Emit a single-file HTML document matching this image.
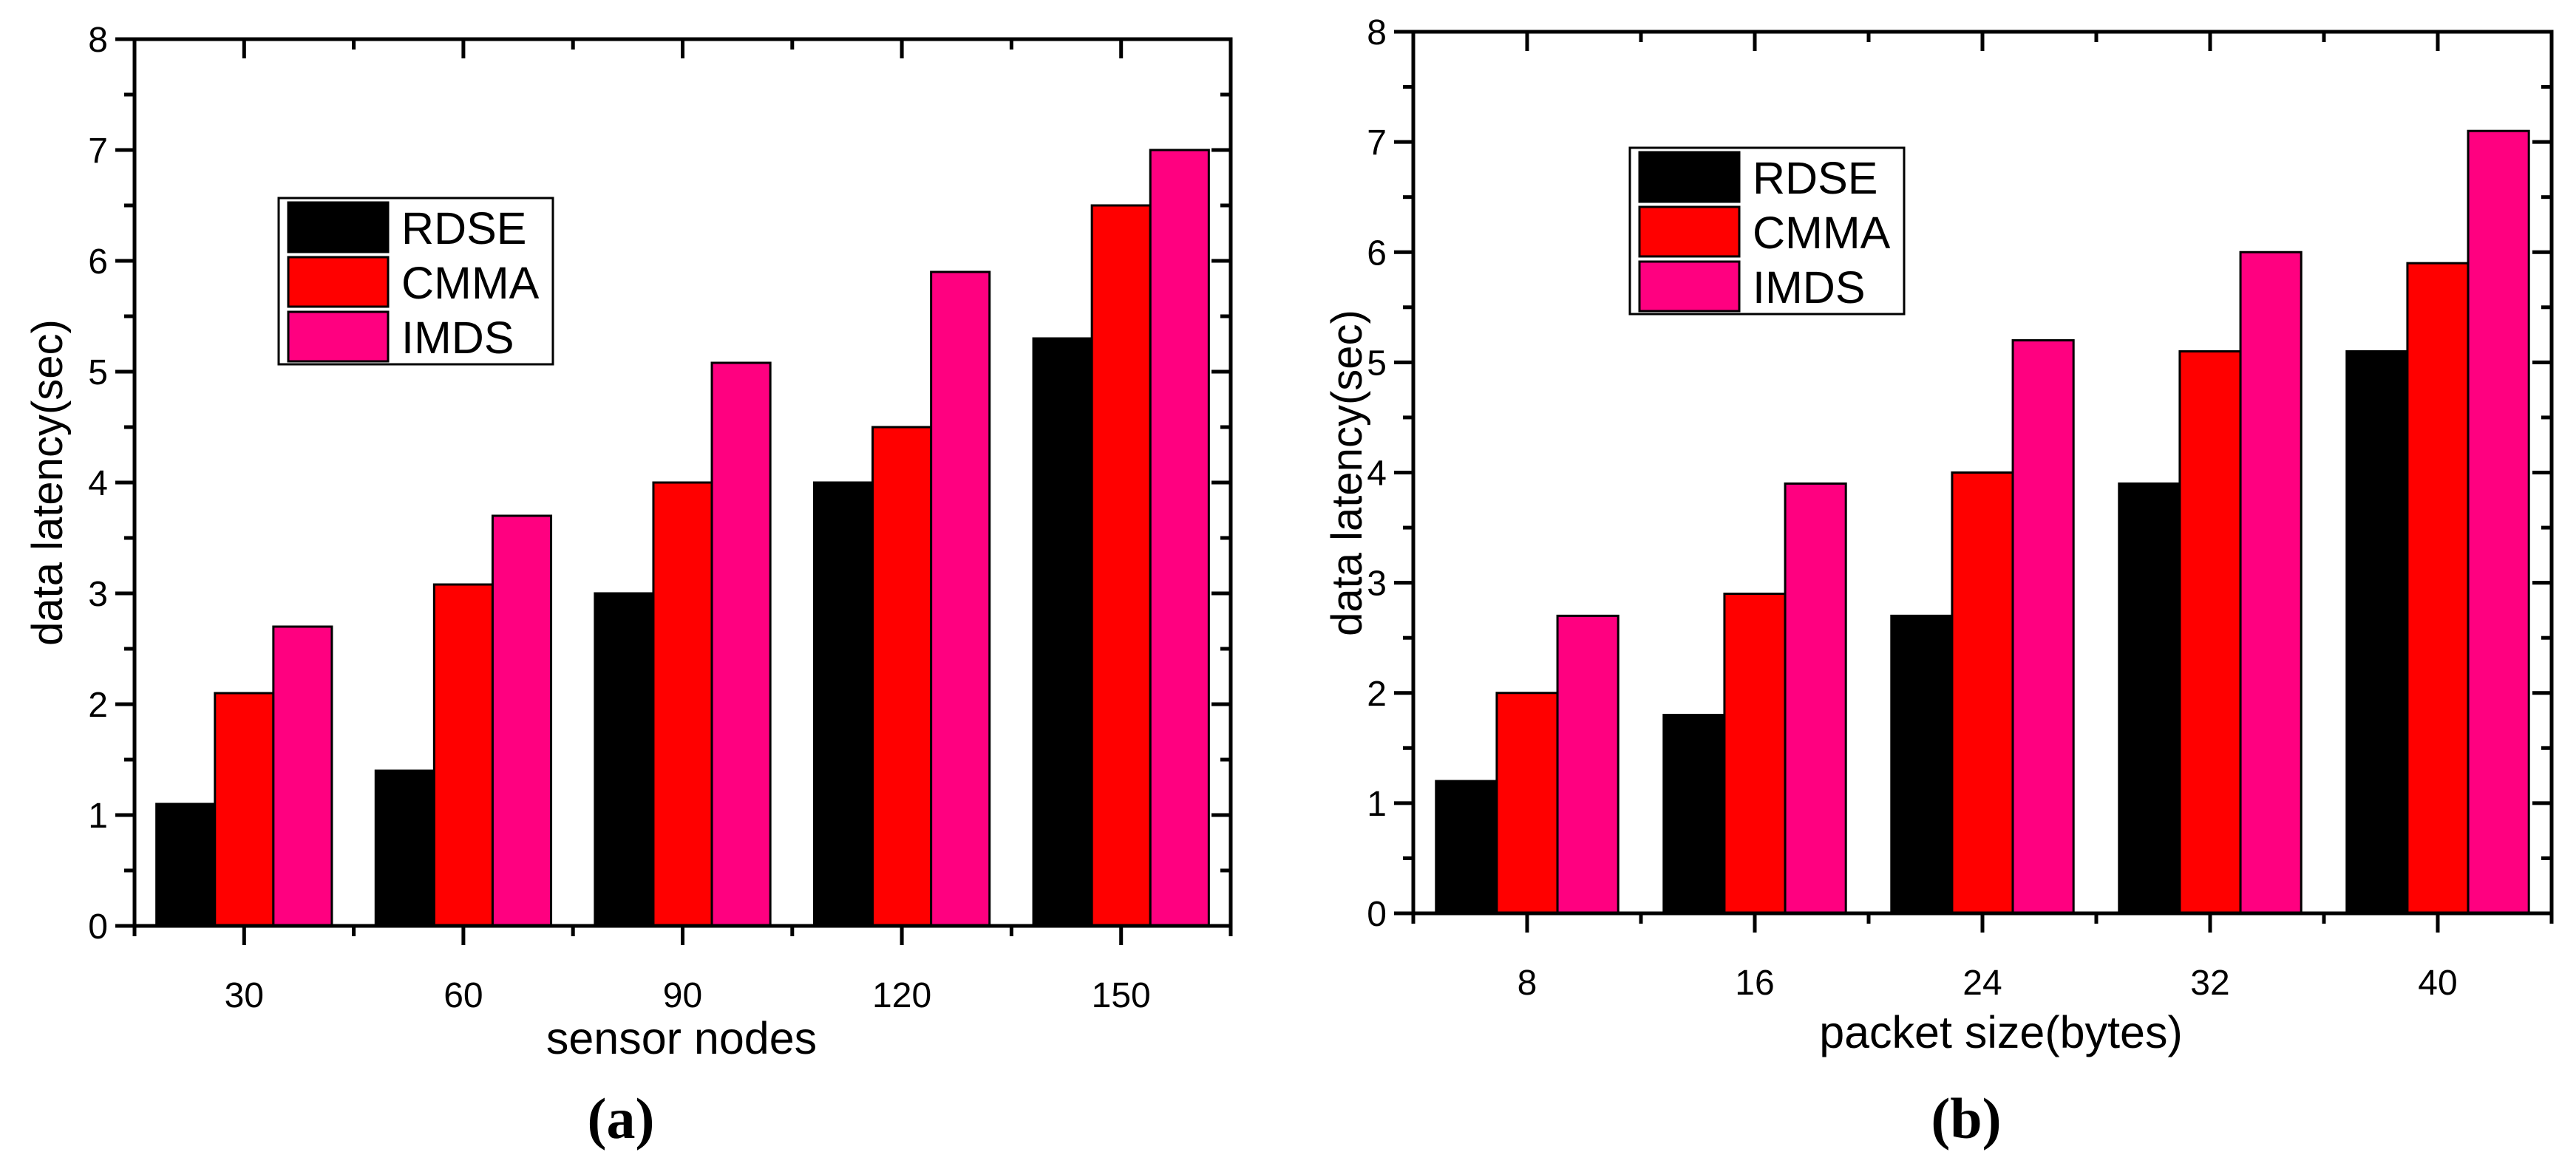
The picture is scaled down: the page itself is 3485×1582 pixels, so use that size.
<!DOCTYPE html>
<html><head><meta charset="utf-8"><style>
html,body{margin:0;padding:0;background:#fff;}
svg{display:block;}
text{font-family:"Liberation Sans",sans-serif;fill:#000;}
</style></head><body>
<svg id="fig" width="3485" height="1582" viewBox="0 0 3485 1582" xmlns="http://www.w3.org/2000/svg"></svg>
<script>
const seriesNames = ["RDSE","CMMA","IMDS"];
const seriesColors = ["#000000","#ff0000","#ff0080"];
const catsA = ["30","60","90","120","150"];
const rdseA = [1.1,1.4,3.0,4.0,5.3];
const cmmaA = [2.1,3.08,4.0,4.5,6.5];
const imdsA = [2.7,3.7,5.08,5.9,7.0];
const catsB = ["8","16","24","32","40"];
const rdseB = [1.2,1.8,2.7,3.9,5.1];
const cmmaB = [2.0,2.9,4.0,5.1,5.9];
const imdsB = [2.7,3.9,5.2,6.0,7.1];
const yTicks = [0,1,2,3,4,5,6,7,8];

const NS="http://www.w3.org/2000/svg";
const svg=document.getElementById('fig');
function mk(tag,attrs,parent){const e=document.createElementNS(NS,tag);for(const k in attrs)e.setAttribute(k,attrs[k]);(parent||svg).appendChild(e);return e;}

function chart(cfg,cats,series){
  const g=mk('g',{});
  
  
  const L=cfg.L,R=cfg.R,T=cfg.T,B=cfg.B;
  const y=v=>B-(v/8)*(B-T);
  const step=(R-L)/cats.length;
  const cx=i=>L+step*(i+0.5);
  const bw=step*0.8/3;
  series.forEach((vals,s)=>{
    vals.forEach((v,i)=>{
      const x=cx(i)-1.5*bw+s*bw;
      const r=mk('rect',{x:x,y:y(v),width:bw,height:B-y(v),fill:seriesColors[s],stroke:'#000','stroke-width':3},g);
      
      
    });
  });
  const f=mk('rect',{x:L,y:T,width:R-L,height:B-T,fill:'none',stroke:'#000','stroke-width':5},g);
  
  
  for(let k=0;k<=16;k++){
    const v=k/2, yy=y(v), major=k%2===0, len=major?26:14;
    mk('line',{x1:L-len,y1:yy,x2:L,y2:yy,stroke:'#000','stroke-width':5},g);
    mk('line',{x1:R,y1:yy,x2:R-len,y2:yy,stroke:'#000','stroke-width':5},g);
  }
  yTicks.forEach(v=>{
    const t=mk('text',{x:L-36,y:y(v)+17,'font-size':48,'text-anchor':'end'},g);
    t.textContent=v;
    
    
  });
  for(let i=0;i<=cats.length;i++){
    const xb=L+step*i;
    mk('line',{x1:xb,y1:B,x2:xb,y2:B+14,stroke:'#000','stroke-width':5},g);
    mk('line',{x1:xb,y1:T,x2:xb,y2:T+14,stroke:'#000','stroke-width':5},g);
  }
  cats.forEach((c,i)=>{
    mk('line',{x1:cx(i),y1:B,x2:cx(i),y2:B+26,stroke:'#000','stroke-width':5},g);
    mk('line',{x1:cx(i),y1:T,x2:cx(i),y2:T+26,stroke:'#000','stroke-width':5},g);
    const t=mk('text',{x:cx(i),y:B+110,'font-size':48,'text-anchor':'middle'},g);
    t.textContent=c;
    
    
  });
  const yt=mk('text',{x:0,y:0,'font-size':58,'text-anchor':'middle',transform:`translate(${cfg.ytx},${cfg.yty}) rotate(-90)`},g);
  yt.textContent='data latency(sec)';
  
  
  const xt=mk('text',{x:cfg.xtx,y:cfg.xty,'font-size':61,'text-anchor':'middle'},g);
  xt.textContent=cfg.xtitle;
  
  
  const cap=mk('text',{x:cfg.capx,y:1540,'font-size':78,'text-anchor':'middle','font-weight':'bold',style:'font-family:"Liberation Serif",serif'},g);
  cap.textContent='('+cfg.cap+')';
  
  
  const lg=mk('g',{},g);
  
  
  mk('rect',{x:cfg.lx,y:cfg.ly,width:371,height:225,fill:'#fff',stroke:'#000','stroke-width':3},lg);
  seriesNames.forEach((n,s)=>{
    const e=mk('g',{},lg);
    
    
    mk('rect',{x:cfg.lx+13,y:cfg.ly+6+s*74,width:135,height:67,fill:seriesColors[s],stroke:'#000','stroke-width':3},e);
    const t=mk('text',{x:cfg.lx+166,y:cfg.ly+62+s*74,'font-size':61},e);
    t.textContent=n;
  });
}
chart({id:'chart-a',L:182,R:1665,T:53,B:1253,ytx:84,yty:653,xtx:922,xty:1426,xtitle:'sensor nodes',capx:840,cap:'a',lx:377,ly:268},
  catsA,[rdseA,cmmaA,imdsA]);
chart({id:'chart-b',L:1912,R:3452,T:43,B:1236,ytx:1842,yty:640,xtx:2707,xty:1418,xtitle:'packet size(bytes)',capx:2660,cap:'b',lx:2205,ly:200},
  catsB,[rdseB,cmmaB,imdsB]);
</script>
</body></html>
